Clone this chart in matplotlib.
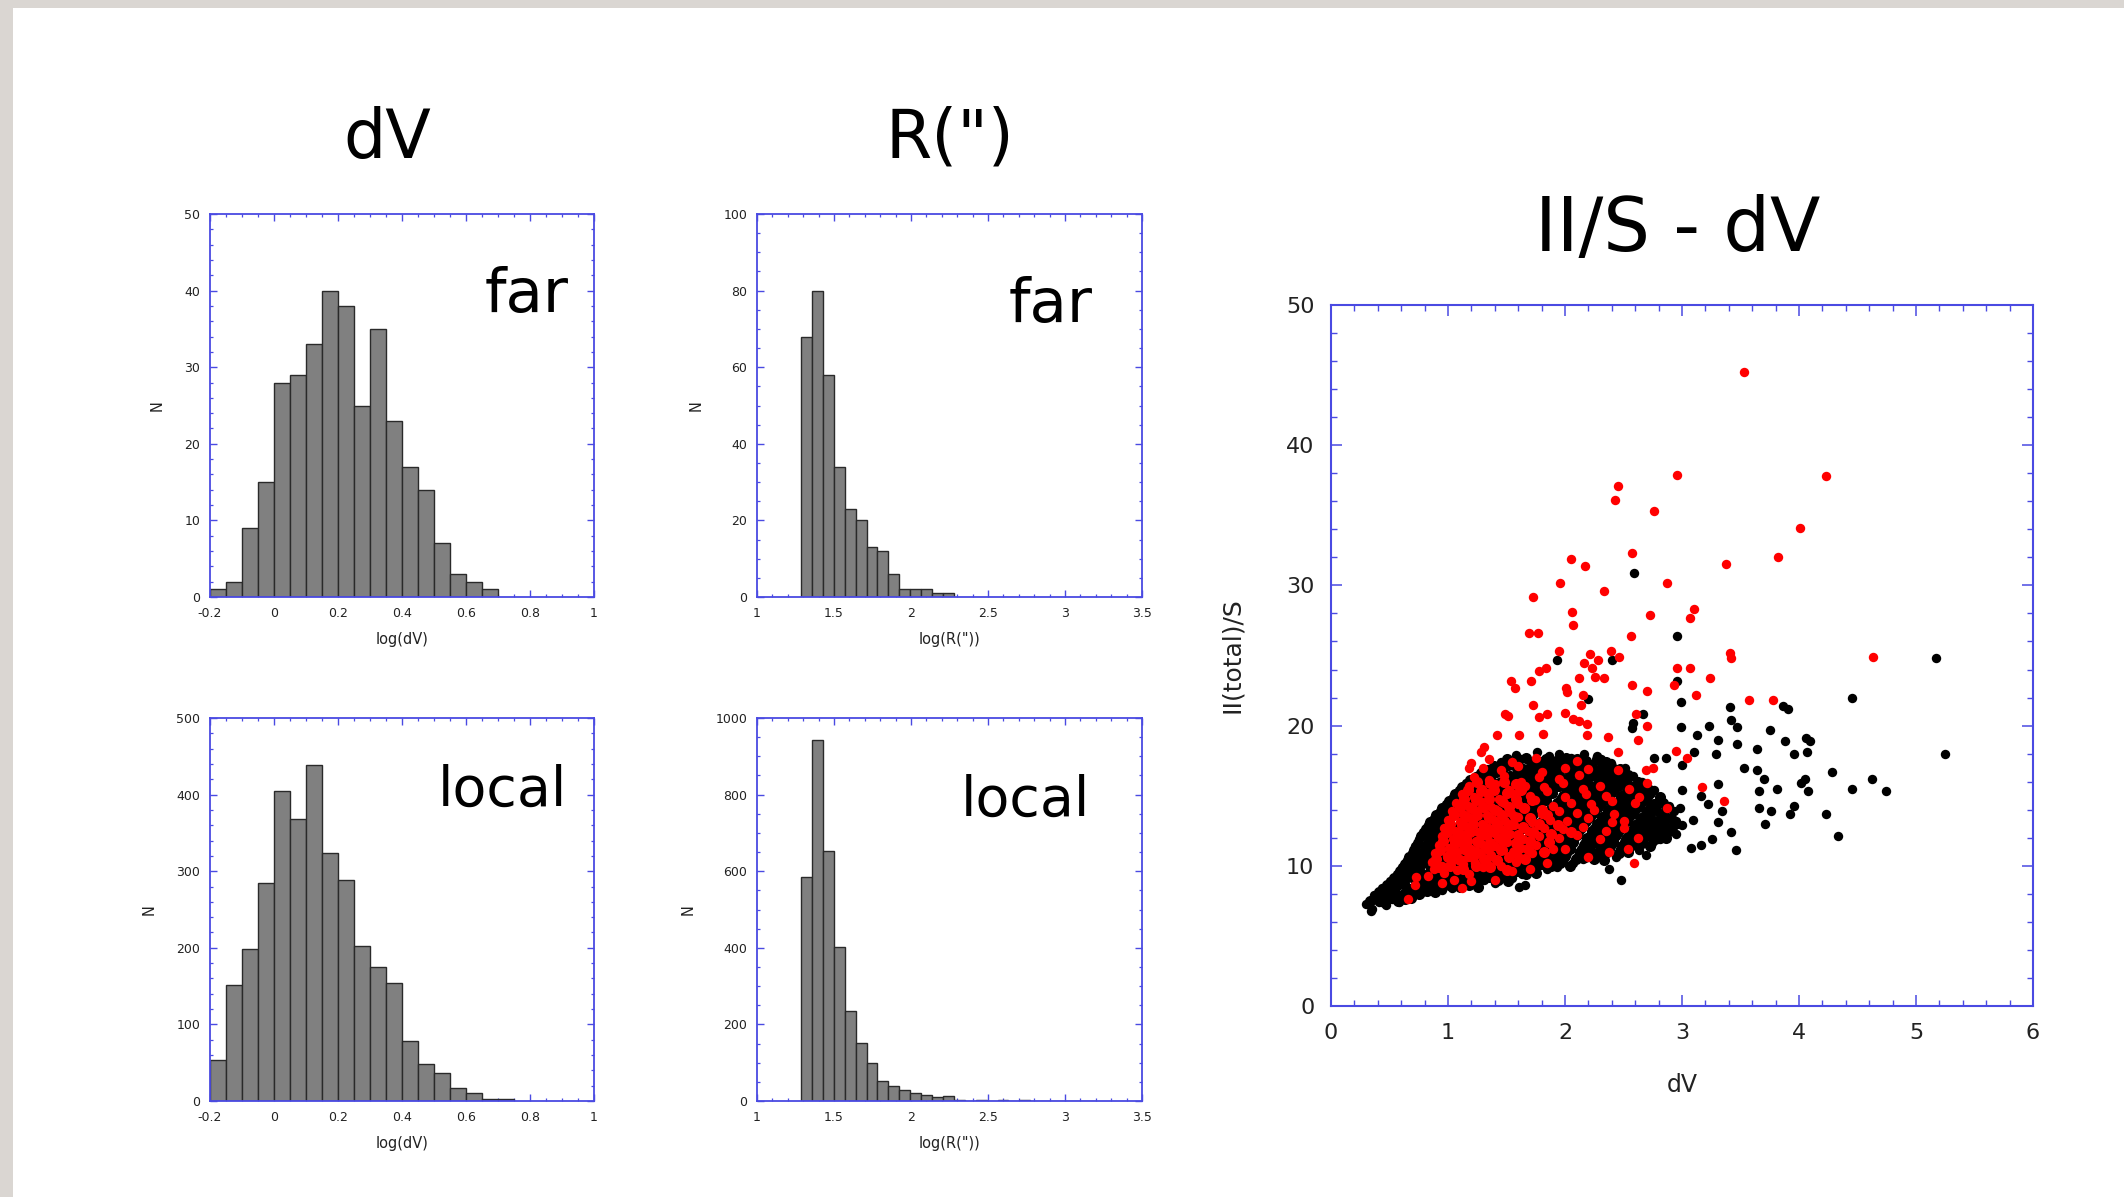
import matplotlib
matplotlib.use("Agg")
import matplotlib.pyplot as plt
from matplotlib.ticker import MultipleLocator, FuncFormatter
from matplotlib.patches import Rectangle
import numpy as np

plt.rcParams['font.family'] = ['DejaVu Sans']
plt.rcParams['axes.unicode_minus'] = False

# ---------------- histogram data ----------------
dv_bin_start = -0.2
dv_bin_width = 0.05
dv_far_counts = [1, 2, 9, 15, 28, 29, 33, 40, 38, 25, 35, 23, 17, 14, 7, 3, 2, 1]
dv_local_counts = [53, 152, 198, 284, 405, 368, 439, 324, 288, 202, 175, 154, 78, 48, 37, 17, 10, 2, 2]

r_bin_start = 1.286
r_bin_width = 0.0709
r_far_counts = [68, 80, 58, 34, 23, 20, 13, 12, 6, 2, 2, 2, 1, 1]
r_local_counts = [585, 943, 654, 403, 236, 152, 98, 51, 40, 30, 20, 15, 10, 14,
                  3, 1, 3, 0, 2, 1, 2, 0, 1, 1, 1, 0, 1]

# ---------------- scatter data ----------------
black_core_x = [
    0.30, 0.35, 0.41, 0.47, 0.52, 0.58,
    0.37, 0.43, 0.50, 0.56, 0.63, 0.69, 0.76,
    0.44, 0.51, 0.58, 0.66, 0.72, 0.80, 0.87, 0.95, 1.03,
    0.50, 0.58, 0.65, 0.73, 0.82, 0.89, 0.97, 1.06, 1.14, 1.22, 1.31, 1.40,
    0.56, 0.64, 0.71, 0.79, 0.88, 0.96, 1.04, 1.13, 1.21, 1.29, 1.38, 1.46, 1.55, 1.63,
    0.61, 0.68, 0.76, 0.85, 0.93, 1.01, 1.10, 1.18, 1.27, 1.35, 1.43, 1.52, 1.60, 1.68, 1.77, 1.85, 1.93,
    0.65, 0.73, 0.81, 0.90, 0.98, 1.06, 1.15, 1.23, 1.32, 1.40, 1.48, 1.57, 1.65, 1.73, 1.82, 1.90, 1.98, 2.07, 2.15,
    0.69, 0.77, 0.85, 0.94, 1.02, 1.10, 1.19, 1.27, 1.36, 1.44, 1.52, 1.61, 1.69, 1.77, 1.86, 1.94, 2.02, 2.11, 2.19, 2.27, 2.36, 2.44,
    0.72, 0.80, 0.88, 0.97, 1.05, 1.13, 1.22, 1.30, 1.39, 1.47, 1.55, 1.64, 1.72, 1.80, 1.89, 1.97, 2.05, 2.14, 2.22, 2.30, 2.39, 2.47, 2.55, 2.63,
    0.75, 0.83, 0.91, 1.00, 1.08, 1.16, 1.25, 1.33, 1.42, 1.50, 1.58, 1.67, 1.75, 1.83, 1.92, 2.00, 2.08, 2.17, 2.25, 2.33, 2.42, 2.50, 2.58, 2.67, 2.74, 2.81,
    0.79, 0.87, 0.95, 1.04, 1.12, 1.20, 1.29, 1.37, 1.46, 1.54, 1.62, 1.71, 1.79, 1.87, 1.96, 2.04, 2.12, 2.21, 2.29, 2.37, 2.46, 2.54, 2.62, 2.71, 2.78, 2.85, 2.92,
    0.83, 0.91, 0.99, 1.08, 1.16, 1.24, 1.33, 1.41, 1.50, 1.58, 1.66, 1.75, 1.83, 1.91, 2.00, 2.08, 2.16, 2.25, 2.33, 2.41, 2.50, 2.58, 2.66, 2.75, 2.82, 2.89, 2.96,
    0.88, 0.96, 1.04, 1.13, 1.21, 1.29, 1.38, 1.46, 1.55, 1.63, 1.71, 1.80, 1.88, 1.96, 2.05, 2.13, 2.21, 2.30, 2.38, 2.46, 2.55, 2.63, 2.71, 2.80, 2.87, 2.95,
    0.93, 1.01, 1.09, 1.18, 1.26, 1.34, 1.43, 1.51, 1.60, 1.68, 1.76, 1.85, 1.93, 2.01, 2.10, 2.18, 2.26, 2.35, 2.43, 2.51, 2.60, 2.68, 2.76, 2.85, 2.93,
    0.98, 1.06, 1.14, 1.23, 1.31, 1.39, 1.48, 1.56, 1.65, 1.73, 1.81, 1.90, 1.98, 2.06, 2.15, 2.23, 2.31, 2.40, 2.48, 2.56, 2.65, 2.73, 2.81, 2.89,
    1.04, 1.12, 1.20, 1.29, 1.37, 1.45, 1.54, 1.62, 1.71, 1.79, 1.87, 1.96, 2.04, 2.12, 2.21, 2.29, 2.37, 2.46, 2.54, 2.62, 2.71, 2.80,
    1.09, 1.17, 1.25, 1.34, 1.42, 1.50, 1.59, 1.67, 1.76, 1.84, 1.92, 2.01, 2.09, 2.17, 2.26, 2.34, 2.42, 2.51, 2.59, 2.67, 2.76,
    1.15, 1.23, 1.31, 1.40, 1.48, 1.56, 1.65, 1.73, 1.82, 1.90, 1.98, 2.07, 2.15, 2.23, 2.32, 2.40, 2.48, 2.57, 2.66,
    1.24, 1.32, 1.41, 1.49, 1.57, 1.66, 1.74, 1.83, 1.91, 1.99, 2.08, 2.16, 2.24, 2.33, 2.41, 2.49, 2.58,
    1.34, 1.42, 1.51, 1.59, 1.68, 1.76, 1.84, 1.93, 2.01, 2.09, 2.18, 2.26, 2.35, 2.43, 2.51,
    1.45, 1.54, 1.62, 1.71, 1.80, 1.88, 1.97, 2.05, 2.14, 2.22, 2.31, 2.39,
    1.58, 1.67, 1.76, 1.86, 1.95, 2.05, 2.16, 2.27,
]
black_core_y = [
    7.3, 6.9, 7.4, 7.2, 7.6, 7.4,
    7.9, 7.7, 8.0, 7.8, 8.1, 7.8, 8.0,
    8.4, 8.2, 8.6, 8.3, 8.5, 8.2, 8.5, 8.3, 8.4,
    8.9, 8.7, 9.1, 8.8, 9.0, 8.7, 9.0, 8.8, 8.9, 8.7, 9.0, 8.8,
    9.4, 9.2, 9.6, 9.3, 9.5, 9.2, 9.4, 9.3, 9.5, 9.2, 9.4, 9.3, 9.1, 9.4,
    9.9, 9.7, 10.1, 9.8, 10.0, 9.7, 10.0, 9.8, 9.9, 9.7, 10.1, 9.8, 9.9, 9.7, 10.0, 9.8, 9.9,
    10.4, 10.2, 10.6, 10.3, 10.5, 10.2, 10.5, 10.3, 10.4, 10.2, 10.6, 10.3, 10.4, 10.2, 10.5, 10.3, 10.4, 10.2, 10.5,
    10.9, 10.7, 11.1, 10.8, 11.0, 10.7, 11.0, 10.8, 10.9, 10.7, 11.1, 10.8, 10.9, 10.7, 11.0, 10.8, 10.9, 10.7, 11.0, 10.8, 10.9, 10.6,
    11.4, 11.2, 11.6, 11.3, 11.5, 11.2, 11.5, 11.3, 11.4, 11.2, 11.6, 11.3, 11.4, 11.2, 11.5, 11.3, 11.4, 11.2, 11.5, 11.3, 11.4, 11.2, 11.5, 11.1,
    11.9, 11.7, 12.1, 11.8, 12.0, 11.7, 12.0, 11.8, 11.9, 11.7, 12.1, 11.8, 11.9, 11.7, 12.0, 11.8, 11.9, 11.7, 12.0, 11.8, 11.9, 11.7, 12.0, 11.8, 11.6, 11.9,
    12.4, 12.2, 12.6, 12.3, 12.5, 12.2, 12.5, 12.3, 12.4, 12.2, 12.6, 12.3, 12.4, 12.2, 12.5, 12.3, 12.4, 12.2, 12.5, 12.3, 12.4, 12.2, 12.5, 12.3, 12.4, 12.2, 12.5,
    12.9, 12.7, 13.1, 12.8, 13.0, 12.7, 13.0, 12.8, 12.9, 12.7, 13.1, 12.8, 12.9, 12.7, 13.0, 12.8, 12.9, 12.7, 13.0, 12.8, 12.9, 12.7, 13.0, 12.8, 12.9, 12.7, 13.0,
    13.4, 13.2, 13.6, 13.3, 13.5, 13.2, 13.5, 13.3, 13.4, 13.2, 13.6, 13.3, 13.4, 13.2, 13.5, 13.3, 13.4, 13.2, 13.5, 13.3, 13.4, 13.2, 13.5, 13.3, 13.4, 13.2,
    13.9, 13.7, 14.1, 13.8, 14.0, 13.7, 14.0, 13.8, 13.9, 13.7, 14.1, 13.8, 13.9, 13.7, 14.0, 13.8, 13.9, 13.7, 14.0, 13.8, 13.9, 13.7, 14.0, 13.8, 13.9,
    14.4, 14.2, 14.6, 14.3, 14.5, 14.2, 14.5, 14.3, 14.4, 14.2, 14.6, 14.3, 14.4, 14.2, 14.5, 14.3, 14.4, 14.2, 14.5, 14.3, 14.4, 14.2, 14.5, 14.3,
    14.9, 14.7, 15.1, 14.8, 15.0, 14.7, 15.0, 14.8, 14.9, 14.7, 15.1, 14.8, 14.9, 14.7, 15.0, 14.8, 14.9, 14.7, 15.0, 14.8, 14.9, 14.7,
    15.4, 15.2, 15.6, 15.3, 15.5, 15.2, 15.5, 15.3, 15.4, 15.2, 15.6, 15.3, 15.4, 15.2, 15.5, 15.3, 15.4, 15.2, 15.5, 15.3, 15.4,
    15.9, 15.7, 16.1, 15.8, 16.0, 15.7, 16.0, 15.8, 15.9, 15.7, 16.1, 15.8, 15.9, 15.7, 16.0, 15.8, 15.9, 15.7, 16.0,
    16.4, 16.2, 16.6, 16.3, 16.5, 16.2, 16.5, 16.3, 16.4, 16.2, 16.6, 16.3, 16.4, 16.2, 16.5, 16.3, 16.4,
    16.9, 16.7, 17.1, 16.8, 17.0, 16.7, 17.0, 16.8, 16.9, 16.7, 17.1, 16.8, 16.9, 16.7, 17.0,
    17.4, 17.2, 17.6, 17.3, 17.5, 17.2, 17.5, 17.3, 17.4, 17.2, 17.6, 17.3,
    17.9, 17.7, 18.1, 17.8, 18.0, 17.7, 18.0, 17.8,
]
# extra points read between the rows above (dense black core), as (dV, II/S)
black_fill_pts = [
    (0.33, 7.5), (0.39, 7.6), (0.45, 7.4), (0.51, 7.7), (0.57, 7.5), (0.63, 7.6), (0.68, 7.7),
    (0.41, 8.1), (0.48, 8.0), (0.54, 8.2), (0.61, 7.9), (0.68, 8.1), (0.75, 8.0), (0.82, 8.2), (0.89, 8.1),
    (0.48, 8.6), (0.55, 8.5), (0.62, 8.7), (0.70, 8.4), (0.77, 8.6), (0.85, 8.5), (0.93, 8.7), (1.01, 8.6),
    (1.10, 8.5), (1.18, 8.6), (1.26, 8.5),
    (0.54, 9.1), (0.62, 9.0), (0.69, 9.2), (0.77, 8.9), (0.86, 9.1), (0.93, 9.0), (1.01, 9.2), (1.10, 9.1),
    (1.18, 9.0), (1.26, 9.1), (1.35, 9.2), (1.43, 9.0), (1.51, 8.9),
    (0.59, 9.6), (0.67, 9.5), (0.75, 9.7), (0.83, 9.4), (0.92, 9.6), (1.00, 9.5), (1.08, 9.7), (1.17, 9.6),
    (1.25, 9.5), (1.33, 9.6), (1.42, 9.7), (1.50, 9.5), (1.59, 9.6), (1.67, 9.4), (1.75, 9.5),
    (0.63, 10.1), (0.71, 10.0), (0.79, 10.2), (0.88, 9.9), (0.96, 10.1), (1.04, 10.0), (1.13, 10.2),
    (1.21, 10.1), (1.30, 10.0), (1.38, 10.1), (1.46, 10.2), (1.55, 10.0), (1.63, 10.1), (1.71, 9.9),
    (1.80, 10.1), (1.88, 10.0), (1.96, 10.2), (2.04, 10.0),
    (0.67, 10.6), (0.75, 10.5), (0.83, 10.7), (0.92, 10.4), (1.00, 10.6), (1.08, 10.5), (1.17, 10.7),
    (1.25, 10.6), (1.34, 10.5), (1.42, 10.6), (1.50, 10.7), (1.59, 10.5), (1.67, 10.6), (1.75, 10.4),
    (1.84, 10.6), (1.92, 10.5), (2.00, 10.7), (2.09, 10.5), (2.17, 10.6), (2.25, 10.5), (2.33, 10.4),
    (0.71, 11.1), (0.79, 11.0), (0.87, 11.2), (0.96, 10.9), (1.04, 11.1), (1.12, 11.0), (1.21, 11.2),
    (1.29, 11.1), (1.38, 11.0), (1.46, 11.1), (1.54, 11.2), (1.63, 11.0), (1.71, 11.1), (1.79, 10.9),
    (1.88, 11.1), (1.96, 11.0), (2.04, 11.2), (2.13, 11.0), (2.21, 11.1), (2.29, 11.0), (2.38, 11.2),
    (2.46, 10.9), (2.54, 11.0),
    (0.74, 11.6), (0.82, 11.5), (0.90, 11.7), (0.99, 11.4), (1.07, 11.6), (1.15, 11.5), (1.24, 11.7),
    (1.32, 11.6), (1.41, 11.5), (1.49, 11.6), (1.57, 11.7), (1.66, 11.5), (1.74, 11.6), (1.82, 11.4),
    (1.91, 11.6), (1.99, 11.5), (2.07, 11.7), (2.16, 11.5), (2.24, 11.6), (2.32, 11.5), (2.41, 11.7),
    (2.49, 11.4), (2.57, 11.5), (2.66, 11.6), (2.73, 11.4),
    (0.77, 12.1), (0.85, 12.0), (0.93, 12.2), (1.02, 11.9), (1.10, 12.1), (1.18, 12.0), (1.27, 12.2),
    (1.35, 12.1), (1.44, 12.0), (1.52, 12.1), (1.60, 12.2), (1.69, 12.0), (1.77, 12.1), (1.85, 11.9),
    (1.94, 12.1), (2.02, 12.0), (2.10, 12.2), (2.19, 12.0), (2.27, 12.1), (2.35, 12.0), (2.44, 12.2),
    (2.52, 11.9), (2.60, 12.0), (2.69, 12.1), (2.77, 11.9), (2.86, 12.0),
    (0.81, 12.6), (0.89, 12.5), (0.97, 12.7), (1.06, 12.4), (1.14, 12.6), (1.22, 12.5), (1.31, 12.7),
    (1.39, 12.6), (1.48, 12.5), (1.56, 12.6), (1.64, 12.7), (1.73, 12.5), (1.81, 12.6), (1.89, 12.4),
    (1.98, 12.6), (2.06, 12.5), (2.14, 12.7), (2.23, 12.5), (2.31, 12.6), (2.39, 12.5), (2.48, 12.7),
    (2.56, 12.4), (2.64, 12.5), (2.73, 12.6), (2.81, 12.4), (2.89, 12.5),
    (0.85, 13.1), (0.93, 13.0), (1.01, 13.2), (1.10, 12.9), (1.18, 13.1), (1.26, 13.0), (1.35, 13.2),
    (1.43, 13.1), (1.52, 13.0), (1.60, 13.1), (1.68, 13.2), (1.77, 13.0), (1.85, 13.1), (1.93, 12.9),
    (2.02, 13.1), (2.10, 13.0), (2.18, 13.2), (2.27, 13.0), (2.35, 13.1), (2.43, 13.0), (2.52, 13.2),
    (2.60, 12.9), (2.68, 13.0), (2.77, 13.1), (2.85, 12.9), (2.93, 13.0),
    (0.90, 13.6), (0.98, 13.5), (1.06, 13.7), (1.15, 13.4), (1.23, 13.6), (1.31, 13.5), (1.40, 13.7),
    (1.48, 13.6), (1.57, 13.5), (1.65, 13.6), (1.73, 13.7), (1.82, 13.5), (1.90, 13.6), (1.98, 13.4),
    (2.07, 13.6), (2.15, 13.5), (2.23, 13.7), (2.32, 13.5), (2.40, 13.6), (2.48, 13.5), (2.57, 13.7),
    (2.65, 13.4), (2.73, 13.5), (2.82, 13.6), (2.91, 13.4),
    (0.95, 14.1), (1.03, 14.0), (1.11, 14.2), (1.20, 13.9), (1.28, 14.1), (1.36, 14.0), (1.45, 14.2),
    (1.53, 14.1), (1.62, 14.0), (1.70, 14.1), (1.78, 14.2), (1.87, 14.0), (1.95, 14.1), (2.03, 13.9),
    (2.12, 14.1), (2.20, 14.0), (2.28, 14.2), (2.37, 14.0), (2.45, 14.1), (2.53, 14.0), (2.62, 14.2),
    (2.70, 13.9), (2.78, 14.0), (2.87, 14.1),
    (1.01, 14.6), (1.09, 14.5), (1.17, 14.7), (1.26, 14.4), (1.34, 14.6), (1.42, 14.5), (1.51, 14.7),
    (1.59, 14.6), (1.68, 14.5), (1.76, 14.6), (1.84, 14.7), (1.93, 14.5), (2.01, 14.6), (2.09, 14.4),
    (2.18, 14.6), (2.26, 14.5), (2.34, 14.7), (2.43, 14.5), (2.51, 14.6), (2.59, 14.5), (2.68, 14.7),
    (2.76, 14.4), (2.84, 14.5),
    (1.06, 15.1), (1.14, 15.0), (1.22, 15.2), (1.31, 14.9), (1.39, 15.1), (1.47, 15.0), (1.56, 15.2),
    (1.64, 15.1), (1.73, 15.0), (1.81, 15.1), (1.89, 15.2), (1.98, 15.0), (2.06, 15.1), (2.14, 14.9),
    (2.23, 15.1), (2.31, 15.0), (2.39, 15.2), (2.48, 15.0), (2.56, 15.1), (2.64, 15.0), (2.73, 15.2),
    (2.81, 14.9),
    (1.12, 15.6), (1.20, 15.5), (1.28, 15.7), (1.37, 15.4), (1.45, 15.6), (1.53, 15.5), (1.62, 15.7),
    (1.70, 15.6), (1.79, 15.5), (1.87, 15.6), (1.95, 15.7), (2.04, 15.5), (2.12, 15.6), (2.20, 15.4),
    (2.29, 15.6), (2.37, 15.5), (2.45, 15.7), (2.54, 15.5), (2.62, 15.6), (2.71, 15.5),
    (1.19, 16.1), (1.27, 16.0), (1.36, 16.2), (1.44, 15.9), (1.52, 16.1), (1.61, 16.0), (1.69, 16.2),
    (1.78, 16.1), (1.86, 16.0), (1.94, 16.1), (2.03, 16.2), (2.11, 16.0), (2.19, 16.1), (2.28, 15.9),
    (2.36, 16.1), (2.44, 16.0), (2.53, 16.2), (2.62, 16.0),
    (1.28, 16.6), (1.37, 16.5), (1.45, 16.7), (1.53, 16.4), (1.62, 16.6), (1.70, 16.5), (1.79, 16.7),
    (1.87, 16.6), (1.95, 16.5), (2.04, 16.6), (2.12, 16.7), (2.20, 16.5), (2.29, 16.6), (2.37, 16.4),
    (2.45, 16.6), (2.54, 16.5),
    (1.39, 17.1), (1.47, 17.0), (1.56, 17.2), (1.64, 16.9), (1.72, 17.1), (1.81, 17.0), (1.89, 17.2),
    (1.97, 17.1), (2.06, 17.0), (2.14, 17.1), (2.22, 17.2), (2.31, 17.0), (2.39, 17.1), (2.47, 16.9),
    (1.50, 17.6), (1.58, 17.5), (1.67, 17.7), (1.75, 17.4), (1.84, 17.6), (1.92, 17.5), (2.01, 17.7),
    (2.10, 17.6), (2.18, 17.5), (2.27, 17.6), (2.35, 17.4),
]
black_out_x = [5.17, 5.25, 4.45, 4.28, 4.62, 4.74, 4.45, 4.23, 4.33, 4.06, 4.09, 3.86, 3.91,
               3.75, 3.88, 3.96, 4.07, 4.05, 4.02, 4.08, 3.96, 3.92, 3.81, 3.76, 3.71, 3.64,
               3.64, 3.66, 3.70, 3.66, 3.53, 3.41, 3.42, 3.47, 3.47, 3.29, 3.31, 3.23, 3.13,
               2.99, 2.99, 2.96, 2.96, 2.59, 1.93, 2.40, 2.20, 2.67, 2.58, 2.57, 3.46, 3.42,
               3.26, 3.16, 3.08, 3.09, 3.31, 3.34, 3.31, 3.22, 3.16, 3.10, 2.86, 2.76, 3.00,
               3.00, 2.98, 3.00, 2.95, 2.86, 2.75, 2.69, 2.48, 2.38, 1.66, 1.61, 1.49, 1.23,
               0.32, 0.34, 0.41]
black_out_y = [24.8, 18.0, 22.0, 16.7, 16.2, 15.3, 15.5, 13.7, 12.1, 19.1, 18.9, 21.4, 21.2,
               19.7, 18.9, 18.0, 18.1, 16.2, 15.9, 15.3, 14.3, 13.7, 15.5, 13.9, 13.0, 18.3,
               16.8, 15.3, 16.2, 14.1, 17.0, 21.3, 20.4, 19.9, 18.7, 18.0, 19.0, 20.0, 19.3,
               19.9, 21.7, 26.4, 23.2, 30.9, 24.7, 24.7, 21.9, 20.8, 20.2, 19.8, 11.1, 12.4,
               11.9, 11.5, 11.3, 13.3, 13.1, 13.9, 15.8, 14.4, 15.0, 18.1, 17.7, 17.7, 17.2,
               15.4, 14.1, 12.9, 12.3, 12.2, 12.5, 10.8, 9.0, 9.8, 8.6, 8.5, 9.2, 8.8,
               7.3, 6.8, 7.7]

red_core_x = [
    0.88, 0.97, 1.08, 1.18, 1.30,
    0.86, 0.95, 1.04, 1.13, 1.23, 1.33, 1.45, 1.58,
    0.89, 0.99, 1.08, 1.17, 1.27, 1.37, 1.47, 1.60, 1.72,
    0.92, 1.01, 1.11, 1.20, 1.30, 1.40, 1.50, 1.62, 1.75, 1.90,
    0.95, 1.04, 1.14, 1.24, 1.33, 1.43, 1.53, 1.64, 1.78, 1.95, 2.10, 2.30,
    0.97, 1.06, 1.16, 1.26, 1.35, 1.45, 1.56, 1.68, 1.82, 1.98, 2.15, 2.35, 2.50,
    1.00, 1.10, 1.19, 1.29, 1.39, 1.49, 1.60, 1.72, 1.87, 2.02, 2.20, 2.40,
    1.03, 1.13, 1.23, 1.33, 1.43, 1.54, 1.66, 1.80, 1.95, 2.10, 2.25, 2.42,
    1.07, 1.17, 1.27, 1.37, 1.48, 1.60, 1.74, 1.90, 2.05, 2.22, 2.40,
    1.12, 1.22, 1.33, 1.44, 1.56, 1.70, 1.85, 2.00, 2.18, 2.35,
    1.18, 1.29, 1.40, 1.52, 1.66, 1.82, 1.98, 2.15, 2.30,
    1.22, 1.35, 1.48, 1.62, 1.78, 1.95, 2.12,
    1.30, 1.45, 1.60, 1.80, 2.00, 2.20,
    1.20, 1.35, 1.55, 1.75, 2.10,
    2.55, 2.45, 2.60, 2.50, 2.62, 2.38, 2.20, 2.00, 1.85, 1.70, 1.55, 1.40, 1.20, 1.05,
    0.95, 2.70, 2.75, 2.63, 2.45,
]
red_core_y = [
    9.8, 9.5, 9.7, 9.4, 9.9,
    10.3, 10.0, 10.4, 10.1, 10.2, 10.5, 10.0, 10.3,
    10.9, 10.7, 11.0, 10.6, 10.9, 10.8, 11.1, 10.7, 10.9,
    11.5, 11.3, 11.6, 11.2, 11.5, 11.4, 11.7, 11.3, 11.5, 11.2,
    12.1, 11.9, 12.2, 11.8, 12.1, 12.0, 12.3, 11.9, 12.1, 12.0, 12.2, 11.9,
    12.7, 12.5, 12.8, 12.4, 12.7, 12.6, 12.9, 12.5, 12.7, 12.6, 12.8, 12.5, 12.7,
    13.3, 13.1, 13.4, 13.0, 13.3, 13.2, 13.5, 13.1, 13.3, 13.2, 13.4, 13.1,
    13.9, 13.7, 14.0, 13.6, 13.9, 13.8, 14.1, 13.7, 13.9, 13.8, 14.0, 13.7,
    14.5, 14.3, 14.6, 14.2, 14.5, 14.4, 14.7, 14.3, 14.5, 14.4, 14.6,
    15.1, 14.9, 15.2, 14.8, 15.1, 15.0, 15.3, 14.9, 15.1, 15.0,
    15.7, 15.5, 15.8, 15.4, 15.7, 15.6, 15.9, 15.5, 15.7,
    16.3, 16.1, 16.4, 16.0, 16.3, 16.2, 16.5,
    17.0, 16.8, 17.1, 16.7, 17.0, 16.9,
    17.3, 17.6, 17.4, 17.7, 17.5,
    15.5, 16.8, 14.5, 13.2, 12.0, 11.0, 10.6, 11.2, 10.2, 9.8, 9.6, 9.0, 8.9, 9.0,
    8.8, 15.9, 17.0, 14.9, 18.1,
]
# extra red points of the dense red cluster, as (dV, II/S)
red_fill_pts = [
    (0.92, 9.9), (1.02, 10.0), (1.13, 9.8), (1.24, 10.0), (1.36, 9.9), (1.50, 9.7),
    (0.90, 10.5), (1.00, 10.6), (1.10, 10.4), (1.21, 10.6), (1.31, 10.5), (1.42, 10.4), (1.52, 10.6), (1.66, 10.5),
    (0.93, 11.1), (1.04, 11.0), (1.14, 11.2), (1.24, 11.0), (1.34, 11.2), (1.45, 11.1), (1.56, 11.0),
    (1.68, 11.2), (1.82, 11.0),
    (0.96, 11.8), (1.06, 11.6), (1.16, 11.8), (1.26, 11.7), (1.36, 11.6), (1.47, 11.8), (1.58, 11.6),
    (1.70, 11.8), (1.86, 11.7),
    (0.99, 12.4), (1.09, 12.3), (1.19, 12.4), (1.29, 12.2), (1.39, 12.4), (1.49, 12.3), (1.60, 12.2),
    (1.73, 12.4), (1.88, 12.3), (2.05, 12.4),
    (1.02, 13.0), (1.12, 12.9), (1.21, 13.0), (1.31, 12.8), (1.42, 13.0), (1.52, 12.9), (1.64, 12.8),
    (1.78, 13.0), (1.94, 12.9),
    (1.05, 13.6), (1.15, 13.5), (1.25, 13.6), (1.35, 13.4), (1.46, 13.6), (1.57, 13.5), (1.70, 13.4), (1.85, 13.6),
    (1.10, 14.2), (1.20, 14.1), (1.30, 14.2), (1.40, 14.0), (1.52, 14.2), (1.65, 14.1), (1.80, 14.0),
    (1.14, 14.8), (1.24, 14.7), (1.35, 14.8), (1.46, 14.6), (1.58, 14.8), (1.72, 14.7),
    (1.17, 15.4), (1.28, 15.3), (1.39, 15.4), (1.50, 15.2), (1.62, 15.4),
    (1.25, 16.0), (1.36, 15.9), (1.48, 16.0), (1.58, 15.8),
]
red_out_x = [3.53, 2.96, 4.23, 2.45, 2.43, 2.76, 4.01, 2.57, 2.05, 3.82, 2.17, 3.38, 1.96,
             2.87, 2.33, 1.73, 3.10, 2.06, 2.73, 3.07, 2.07, 1.69, 1.77, 2.56, 1.95, 2.39,
             3.41, 3.42, 2.46, 4.63, 2.21, 2.28, 2.16, 1.78, 1.84, 2.23, 2.26, 2.33, 2.96,
             3.07, 3.24, 1.54, 1.71, 2.12, 2.57, 2.93, 2.70, 1.57, 2.01, 2.02, 2.15, 3.12,
             1.73, 2.14, 3.57, 3.78, 1.49, 1.51, 1.78, 1.85, 2.61, 2.00, 2.07, 2.12, 2.19,
             2.70, 1.42, 1.61, 1.81, 2.19, 2.37, 2.62, 2.95, 1.31, 1.28, 1.18, 3.04, 2.69,
             3.17, 3.36, 2.87, 2.59, 2.54, 0.66, 0.72, 0.73, 0.83, 1.12]
red_out_y = [45.2, 37.9, 37.8, 37.1, 36.1, 35.3, 34.1, 32.3, 31.9, 32.0, 31.4, 31.5, 30.2,
             30.2, 29.6, 29.2, 28.3, 28.1, 27.9, 27.7, 27.2, 26.6, 26.6, 26.4, 25.3, 25.3,
             25.2, 24.8, 24.9, 24.9, 25.1, 24.7, 24.5, 23.9, 24.1, 24.1, 23.5, 23.4, 24.1,
             24.1, 23.4, 23.2, 23.2, 23.4, 22.9, 22.9, 22.5, 22.7, 22.7, 22.4, 22.2, 22.2,
             21.5, 21.5, 21.8, 21.8, 20.8, 20.7, 20.6, 20.8, 20.8, 20.9, 20.5, 20.3, 20.1,
             20.0, 19.3, 19.3, 19.4, 19.3, 19.2, 19.0, 18.2, 18.5, 18.1, 17.0, 17.7, 16.8,
             15.6, 14.6, 14.1, 10.2, 11.2, 7.6, 8.6, 9.2, 9.3, 8.4]

# ---------------- figure ----------------
W, H = 2124, 1197
fig = plt.figure(figsize=(W / 100, H / 100), dpi=100)
fig.patch.set_facecolor('white')

# grey frame strips (slide background)
fig.patches.append(Rectangle((0, 1 - 8 / H), 1, 8 / H, transform=fig.transFigure,
                             facecolor='#dad6d2', edgecolor='none', zorder=0))
fig.patches.append(Rectangle((0, 0), 13 / W, 1, transform=fig.transFigure,
                             facecolor='#dad6d2', edgecolor='none', zorder=0))

BLUE = '#4a4ae2'
TXT = '#222222'
DOT = 46
DOT_FILL = 64


def fmt(v, pos):
    v = round(v, 6) + 0.0
    return f'{v:g}'


def style_axes(ax, xmaj, xmin, ymaj, ymin, big=False):
    for s in ax.spines.values():
        s.set_color(BLUE)
        s.set_linewidth(1.3 if not big else 1.5)
    ax.xaxis.set_major_locator(MultipleLocator(xmaj))
    ax.xaxis.set_minor_locator(MultipleLocator(xmin))
    ax.yaxis.set_major_locator(MultipleLocator(ymaj))
    ax.yaxis.set_minor_locator(MultipleLocator(ymin))
    ax.xaxis.set_major_formatter(FuncFormatter(fmt))
    ax.yaxis.set_major_formatter(FuncFormatter(fmt))
    if big:
        ax.tick_params(which='major', direction='in', top=True, right=True,
                       length=8, width=1.1, color=BLUE, labelsize=16, pad=12,
                       labelcolor=TXT)
        ax.tick_params(which='minor', direction='in', top=True, right=True,
                       length=4.5, width=1.0, color=BLUE)
    else:
        ax.tick_params(which='major', direction='in', top=True, right=True,
                       length=5, width=1.0, color=BLUE, labelsize=9, pad=7,
                       labelcolor=TXT)
        ax.tick_params(which='minor', direction='in', top=True, right=True,
                       length=2.5, width=0.9, color=BLUE)


def hist_panel(rect, start, width, counts, xlim, ylim, xmaj, xmin, ymaj, ymin,
               xlabel, tag, tag_pos, tag_size):
    ax = fig.add_axes(rect)
    edges = start + width * np.arange(len(counts))
    ax.bar(edges, counts, width=width, align='edge', color='#808080',
           edgecolor='#2a2a2a', linewidth=1.0, zorder=2)
    ax.set_xlim(*xlim)
    ax.set_ylim(*ylim)
    style_axes(ax, xmaj, xmin, ymaj, ymin)
    ax.set_xlabel(xlabel, fontsize=10.5, color=TXT, labelpad=9)
    ax.set_ylabel('N', fontsize=10.5, color=TXT, labelpad=14)
    ax.text(tag_pos[0], tag_pos[1], tag, transform=ax.transAxes, ha='right',
            va='baseline', fontsize=tag_size, color='black')
    return ax


def frac(left, top, right, bottom):
    return [left / W, 1 - bottom / H, (right - left) / W, (bottom - top) / H]


hist_panel(frac(210, 214, 594, 597), dv_bin_start, dv_bin_width, dv_far_counts,
           (-0.2, 1.0), (0, 50), 0.2, 0.05, 10, 2, 'log(dV)', 'far', (0.935, 0.745), 44)
hist_panel(frac(757, 214, 1142, 597), r_bin_start, r_bin_width, r_far_counts,
           (1.0, 3.5), (0, 100), 0.5, 0.1, 20, 5, 'log(R("))', 'far', (0.873, 0.718), 44)
hist_panel(frac(210, 718, 594, 1101), dv_bin_start, dv_bin_width, dv_local_counts,
           (-0.2, 1.0), (0, 500), 0.2, 0.05, 100, 20, 'log(dV)', 'local', (0.93, 0.77), 40)
hist_panel(frac(757, 718, 1142, 1101), r_bin_start, r_bin_width, r_local_counts,
           (1.0, 3.5), (0, 1000), 0.5, 0.1, 200, 50, 'log(R("))', 'local', (0.865, 0.745), 40)

# scatter panel
ax = fig.add_axes(frac(1331, 305, 2033, 1006))
bfx, bfy = zip(*black_fill_pts)
rfx, rfy = zip(*red_fill_pts)
ax.scatter(black_core_x, black_core_y, s=DOT, color='black', linewidths=0, zorder=2)
ax.scatter(bfx, bfy, s=DOT_FILL, color='black', linewidths=0, zorder=2)
ax.scatter(black_out_x, black_out_y, s=DOT, color='black', linewidths=0, zorder=2)
ax.scatter(red_core_x, red_core_y, s=DOT, color='#ff0000', linewidths=0, zorder=3)
ax.scatter(rfx, rfy, s=DOT_FILL, color='#ff0000', linewidths=0, zorder=3)
ax.scatter(red_out_x, red_out_y, s=DOT, color='#ff0000', linewidths=0, zorder=3)
ax.set_xlim(0, 6)
ax.set_ylim(0, 50)
style_axes(ax, 1, 0.2, 10, 2, big=True)
ax.set_xlabel('dV', fontsize=17, color=TXT, labelpad=22)
ax.set_ylabel('II(total)/S', fontsize=18, color=TXT, labelpad=30)

# titles
fig.text(387 / W, 1 - 158 / H, 'dV', ha='center', va='baseline', fontsize=48)
fig.text(950 / W, 1 - 158 / H, 'R(")', ha='center', va='baseline', fontsize=48)
fig.text(1678 / W, 1 - 251 / H, 'II/S - dV', ha='center', va='baseline', fontsize=53)

fig.savefig('out.png', dpi=100, facecolor=fig.get_facecolor())
